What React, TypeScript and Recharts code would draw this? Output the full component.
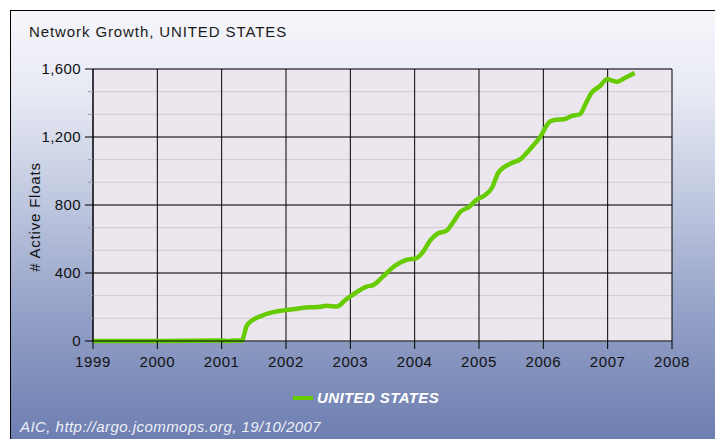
import React from "react";
import {
  LineChart,
  Line,
  XAxis,
  YAxis,
  CartesianGrid,
  ReferenceLine,
} from "recharts";

// decimal year -> active floats
const years = [
  1999.0, 2000.0, 2001.0, 2001.1, 2001.2, 2001.31, 2001.39, 2001.47, 2001.6,
  2001.75, 2001.96, 2002.17, 2002.37, 2002.5, 2002.63, 2002.79, 2002.92,
  2003.0, 2003.15, 2003.25, 2003.36, 2003.51, 2003.62, 2003.77, 2003.88,
  2004.03, 2004.12, 2004.24, 2004.35, 2004.5, 2004.6, 2004.71, 2004.85,
  2004.96, 2005.07, 2005.2, 2005.3, 2005.38, 2005.5, 2005.64, 2005.79,
  2005.95, 2006.1, 2006.2, 2006.31, 2006.45, 2006.57, 2006.65, 2006.75,
  2006.88, 2006.99, 2007.14, 2007.28, 2007.42,
];
const floats = [
  0, 0, 3, 0, 3, 2, 90, 120, 145,
  165, 180, 190, 198, 200, 207, 203, 240,
  262, 300, 320, 330, 380, 420, 460, 478,
  488, 520, 590, 630, 650, 700, 760, 790,
  830, 852, 900, 990, 1020, 1045, 1068, 1127,
  1200, 1290, 1302, 1304, 1325, 1334, 1390, 1460,
  1500, 1540, 1525, 1550, 1576,
];

const xTicks = [1999, 2000, 2001, 2002, 2003, 2004, 2005, 2006, 2007, 2008];
const yMajor = [0, 400, 800, 1200, 1600];
const yAll = yMajor.flatMap((v) =>
  v < 1600 ? [v, v + 400 / 3, v + 800 / 3] : [v]
);

const data = years.map((t, i) => ({ t, v: floats[i] }));

const FONT = "'Liberation Sans', Arial, sans-serif";

const YTick = (props: any) => {
  const { x, y, payload } = props;
  const major = yMajor.includes(payload.value);
  if (!major) {
    return <line x1={x - 5} x2={x} y1={y} y2={y} stroke="#9a9aa6" />;
  }
  return (
    <g>
      <line x1={x - 8} x2={x} y1={y} y2={y} stroke="#000" />
      <text
        x={x - 12}
        y={y + 5}
        textAnchor="end"
        fontSize={15}
        letterSpacing={0.4}
        fontFamily={FONT}
        fill="#111"
      >
        {payload.value.toLocaleString("en-US")}
      </text>
    </g>
  );
};

export default function App() {
  return (
    <div
      style={{
        position: "absolute",
        left: 0,
        top: 0,
        width: 715,
        height: 439,
        overflow: "hidden",
        background: "#fff",
        fontFamily: FONT,
      }}
    >
      <div
        style={{
          position: "absolute",
          left: 10,
          top: 10,
          width: 720,
          height: 440,
          border: "1px solid #000",
          background:
            "linear-gradient(to bottom, #f6f6fb 0%, #e6e8f3 20%, #bcc5de 45%, #929fc6 70%, #6a7bae 100%)",
        }}
      />
      <div
        style={{
          position: "absolute",
          left: 29,
          top: 23,
          fontSize: 15,
          letterSpacing: 0.9,
          color: "#1a1a1a",
        }}
      >
        Network Growth, UNITED STATES
      </div>
      <div style={{ position: "absolute", left: 0, top: 0 }}>
        <LineChart
          width={715}
          height={439}
          data={data}
          margin={{ top: 69, right: 43, bottom: 68, left: 33 }}
        >
          <CartesianGrid
            fill="#ece6ee"
            fillOpacity={1}
            stroke="#cfc9d0"
            vertical={false}
          />
          <CartesianGrid stroke="#000" horizontal={false} />
          {yMajor.slice(1).map((v) => (
            <ReferenceLine key={v} y={v} stroke="#000" />
          ))}
          <XAxis
            dataKey="t"
            type="number"
            domain={[1999, 2008]}
            ticks={xTicks}
            height={30}
            axisLine={{ stroke: "#000" }}
            tickLine={{ stroke: "#000" }}
            tickSize={8}
            tickMargin={7}
            tick={{
              fontSize: 15,
              fontFamily: FONT,
              fill: "#111",
              letterSpacing: 0.6,
            }}
            allowDecimals={false}
          />
          <YAxis
            type="number"
            domain={[0, 1600]}
            ticks={yAll}
            width={60}
            axisLine={{ stroke: "#000" }}
            tickLine={false}
            tickSize={0}
            tickMargin={0}
            tick={<YTick />}
            interval={0}
            label={{
              content: ({ viewBox }: any) => (
                <text
                  x={viewBox.x + 1}
                  y={217}
                  transform={`rotate(-90, ${viewBox.x + 1}, 217)`}
                  textAnchor="middle"
                  dominantBaseline="central"
                  fontSize={15}
                  letterSpacing={0.8}
                  fontFamily={FONT}
                  fill="#111"
                >
                  # Active Floats
                </text>
              ),
            }}
          />
          <Line
            type="monotone"
            dataKey="v"
            stroke="#66cc00"
            strokeWidth={4.5}
            dot={false}
            isAnimationActive={false}
          />
        </LineChart>
      </div>
      <div
        style={{
          position: "absolute",
          left: 293,
          top: 389,
          display: "flex",
          alignItems: "center",
        }}
      >
        <div style={{ width: 20, height: 4, background: "#66cc00" }} />
        <span
          style={{
            marginLeft: 4,
            fontSize: 15,
            letterSpacing: 0.4,
            fontWeight: "bold",
            fontStyle: "italic",
            color: "#fff",
          }}
        >
          UNITED STATES
        </span>
      </div>
      <div
        style={{
          position: "absolute",
          left: 20,
          top: 418,
          fontSize: 15,
          letterSpacing: 0.45,
          fontStyle: "italic",
          color: "#eef0f8",
        }}
      >
        AIC, http://argo.jcommops.org, 19/10/2007
      </div>
    </div>
  );
}
